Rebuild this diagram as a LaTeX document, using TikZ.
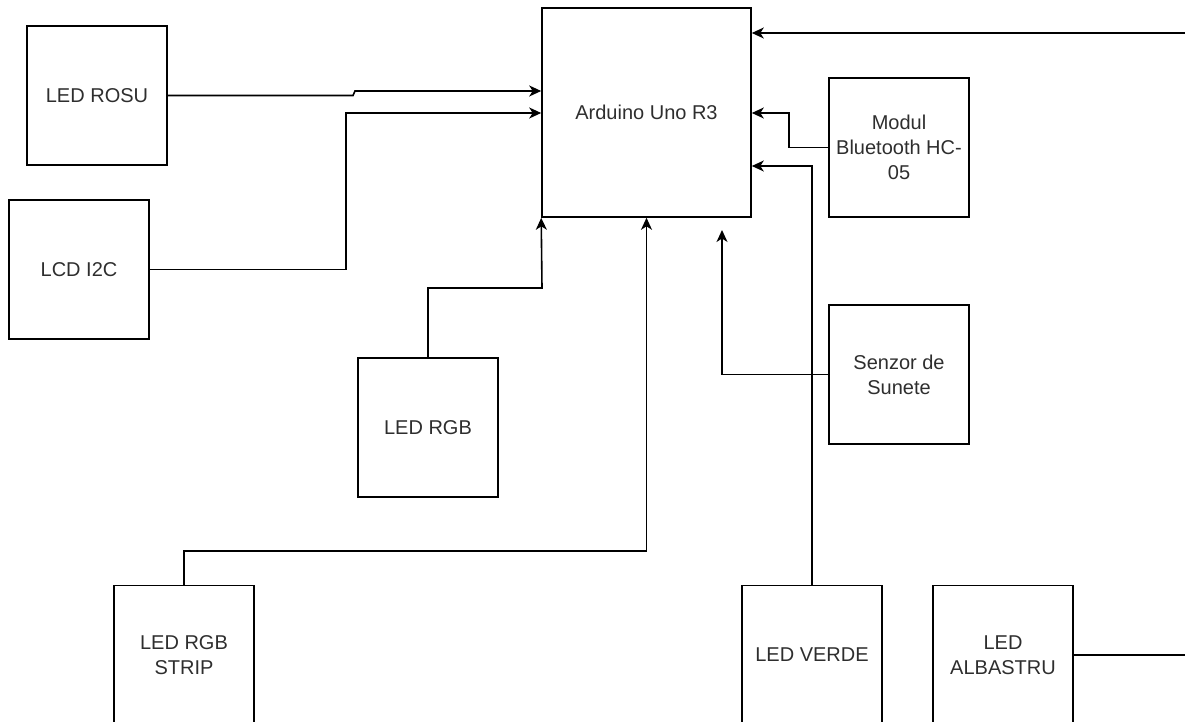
\documentclass[tikz,border=0pt]{standalone}
\usepackage{fontspec}
\setmainfont{Liberation Sans}
\usetikzlibrary{arrows.meta,calc}
\begin{document}
\begin{tikzpicture}[x=1pt,y=-1pt,
 box/.style={draw=black,line width=1.6pt,minimum width=140pt,minimum height=139pt,inner sep=0pt,align=center,text=black!82,font=\fontsize{20}{25}\selectfont},
 conn/.style={line width=1.6pt,-{Stealth[length=12pt,width=11pt,inset=3.5pt]}}]
\useasboundingbox (0,0) rectangle (1185,722);
\clip (0,0) rectangle (1185,722);
\node[box,minimum width=209pt,minimum height=209pt] (ard) at (646.5,112.5) {Arduino Uno R3};
\node[box] (rosu) at (97,95.5) {LED ROSU};
\node[box] (lcd) at (79,269.5) {LCD I2C};
\node[box] (rgb) at (428,427.5) {LED RGB};
\node[box] (bt) at (899,147.5) {Modul\\Bluetooth HC-\\05};
\node[box] (senz) at (899,374.5) {Senzor de\\Sunete};
\node[box] (strip) at (184,655) {LED RGB\\STRIP};
\node[box] (verde) at (812,655) {LED VERDE};
\node[box] (alb) at (1003,655) {LED\\ALBASTRU};
\coordinate (sz) at (722,230);
\draw[conn] (rosu.east) -- (353,95.5) -- (355,91) -- (ard.west |- 0,91);
\draw[conn] (lcd.east) -- (346,269.5) -- (346,113) -- (ard.west |- 0,113);
\draw[conn] (rgb.north) -- (428,288) -- (542,288) -- (ard.south west);
\draw[conn] (strip.north) -- (184,551) -- (646.5,551) -- (ard.south);
\draw[conn] (senz.west) -- (722,374.5) -- (sz);
\draw[conn] (verde.north) -- (812,166) -- (ard.east |- 0,166);
\draw[conn] (bt.west) -- (789,147.5) -- (789,113) -- (ard.east |- 0,113);
\draw[conn] (alb.east) -- (1200,655) -- (1200,33) -- (ard.east |- 0,33);
\end{tikzpicture}
\end{document}
